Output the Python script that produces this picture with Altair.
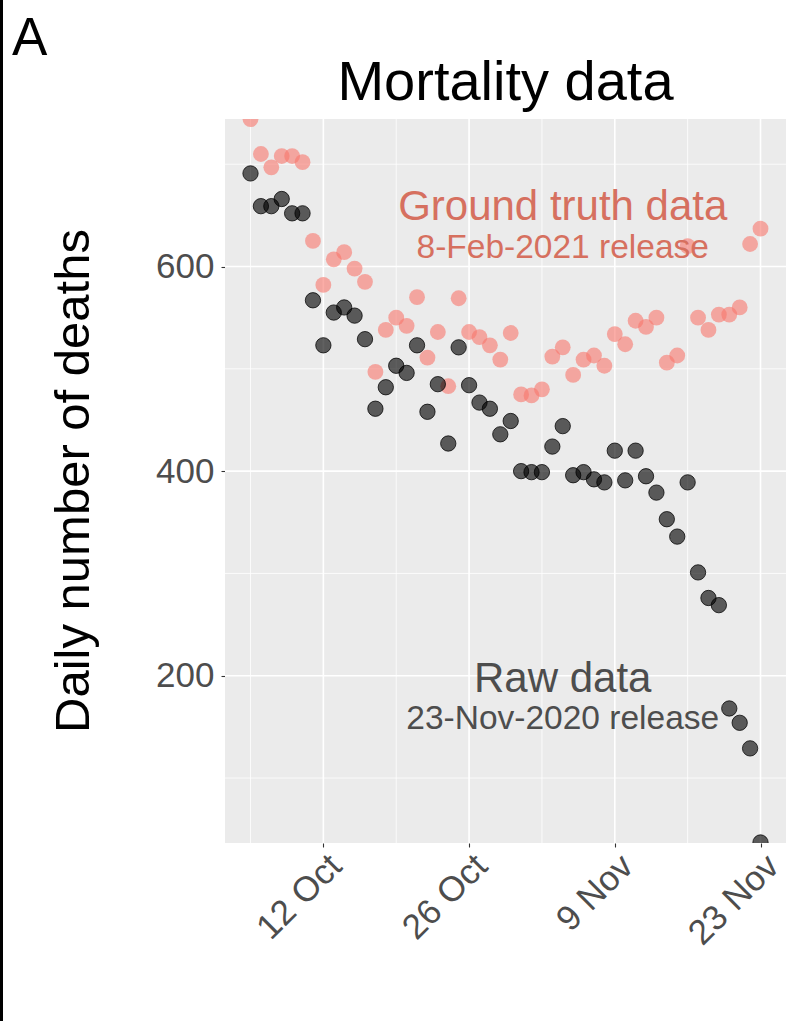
import altair as alt
import pandas as pd

# Daily deaths, 5 Oct 2020 to 23 Nov 2020
first_day = "2020-10-05"
n_days = 50
ground_truth = [744, 710, 697, 708, 708, 702, 625, 582, 607, 614,
                598, 585, 497, 538, 550, 542, 570, 511, 536, 483,
                569, 536, 531, 523, 509, 535, 475, 474, 480, 512,
                521, 494, 509, 513, 503, 534, 524, 547, 541, 550,
                506, 513, 620, 550, 538, 553, 553, 560, 622, 637]
raw_release = [691, 659, 659, 666, 652, 652, 567, 523, 555, 560,
               552, 529, 461, 482, 503, 496, 523, 458, 485, 427,
               521, 484, 467, 461, 436, 449, 400, 399, 399, 424,
               444, 396, 399, 392, 389, 420, 391, 420, 395, 379,
               353, 336, 389, 301, 276, 269, 168, 154, 129, 37]

x_major = ["2020-10-12", "2020-10-26", "2020-11-09", "2020-11-23"]
x_minor = ["2020-10-05", "2020-10-19", "2020-11-02", "2020-11-16"]
y_major = [200, 400, 600]
y_minor = [100, 300, 500, 700]

labels_big = ["Ground truth data", "Raw data"]
labels_big_y = [645, 184]
labels_small = ["8-Feb-2021 release", "23-Nov-2020 release"]
labels_small_y = [608, 148]
label_colors = ["#D6705F", "#4D4D4D"]
label_date = "2020-11-04"

RED = "#F8766D"
FONT = "Liberation Sans"
W, H = 561, 724

dates = pd.date_range(first_day, periods=n_days, freq="D").strftime("%Y-%m-%d")
ground_df = pd.DataFrame({"date": dates, "deaths": ground_truth})
raw_df = pd.DataFrame({"date": dates, "deaths": raw_release})

x_scale = alt.Scale(
    type="utc",
    domain=[alt.DateTime(year=2020, month=10, date=2, hours=13, minutes=12, utc=True),
            alt.DateTime(year=2020, month=11, date=25, hours=10, minutes=48, utc=True)],
)
y_scale = alt.Scale(domain=[36.5, 744.2], nice=False, zero=False)

x_axis = alt.Axis(
    values=[alt.DateTime(year=2020, month=int(d[5:7]), date=int(d[8:10]), utc=True) for d in x_major],
    labelExpr="utcFormat(datum.value, '%-d %b')",
    labelAngle=-45, labelAlign="right", labelBaseline="top",
    labelFontSize=35, labelFont=FONT, labelColor="#4D4D4D", labelPadding=1,
    tickColor="#333333", tickSize=4, tickWidth=1.1,
    grid=False, domain=False, title=None,
)
y_axis = alt.Axis(
    values=y_major, labelFontSize=35, labelFont=FONT, labelColor="#4D4D4D",
    labelPadding=7, tickColor="#333333", tickSize=4, tickWidth=1.1,
    grid=False, domain=False, title=None,
)

X = lambda f: alt.X(f, scale=x_scale, axis=x_axis)
Y = lambda f: alt.Y(f, scale=y_scale, axis=y_axis)

# panel background
panel = alt.Chart(pd.DataFrame({"a": [0]})).mark_rect(color="#EBEBEB").encode(
    x=alt.value(0), x2=alt.value(W), y=alt.value(0), y2=alt.value(H)
)

def vgrid(vals, width):
    return alt.Chart(pd.DataFrame({"date": vals})).mark_rule(color="white", strokeWidth=width).encode(
        x=X("date:T"), y=alt.value(0), y2=alt.value(H)
    )

def hgrid(vals, width):
    return alt.Chart(pd.DataFrame({"v": vals})).mark_rule(color="white", strokeWidth=width).encode(
        y=Y("v:Q"), x=alt.value(0), x2=alt.value(W)
    )

red_pts = alt.Chart(ground_df).mark_circle(
    size=250, color=RED, opacity=0.6, clip=True
).encode(x=X("date:T"), y=Y("deaths:Q"))

black_pts = alt.Chart(raw_df).mark_point(
    shape="circle", filled=True, size=235, fill="black", fillOpacity=0.62,
    stroke="black", strokeWidth=1, strokeOpacity=0.75, clip=True
).encode(x=X("date:T"), y=Y("deaths:Q"))

big_df = pd.DataFrame({"date": label_date, "v": labels_big_y, "t": labels_big, "c": label_colors})
small_df = pd.DataFrame({"date": label_date, "v": labels_small_y, "t": labels_small, "c": label_colors})

big_txt = alt.Chart(big_df).mark_text(fontSize=42, font=FONT, align="center", baseline="alphabetic").encode(
    x=X("date:T"), y=Y("v:Q"), text="t:N", color=alt.Color("c:N", scale=None),
)
small_txt = alt.Chart(small_df).mark_text(fontSize=33.5, font=FONT, align="center", baseline="alphabetic").encode(
    x=X("date:T"), y=Y("v:Q"), text="t:N", color=alt.Color("c:N", scale=None),
)

title_txt = alt.Chart(pd.DataFrame({"t": ["Mortality data"]})).mark_text(
    fontSize=56, font=FONT, align="center", baseline="alphabetic", color="black"
).encode(text="t:N", x=alt.value(W / 2), y=alt.value(-19))

y_title = alt.Chart(pd.DataFrame({"t": ["Daily number of deaths"]})).mark_text(
    fontSize=49, font=FONT, angle=270, align="center", baseline="alphabetic", color="black"
).encode(text="t:N", x=alt.value(-136), y=alt.value(H / 2))

panel_tag = alt.Chart(pd.DataFrame({"t": ["A"]})).mark_text(
    fontSize=53, font=FONT, align="left", baseline="alphabetic", color="black"
).encode(text="t:N", x=alt.value(-213), y=alt.value(-64))

edge = alt.Chart(pd.DataFrame({"a": [0]})).mark_rule(color="black", strokeWidth=3).encode(
    x=alt.value(-223.5), y=alt.value(-119), y2=alt.value(902)
)

chart = alt.layer(
    panel, vgrid(x_minor, 0.8), hgrid(y_minor, 0.8), vgrid(x_major, 1.6), hgrid(y_major, 1.6),
    red_pts, black_pts, big_txt, small_txt, title_txt, y_title, panel_tag, edge,
).properties(
    width=W, height=H,
    autosize=alt.AutoSizeParams(type="none"),
    padding={"left": 225, "top": 119, "right": 6, "bottom": 178},
    background="white",
).configure_view(stroke=None)

chart.save("out.html", embed_options={"renderer": "svg", "actions": False})
